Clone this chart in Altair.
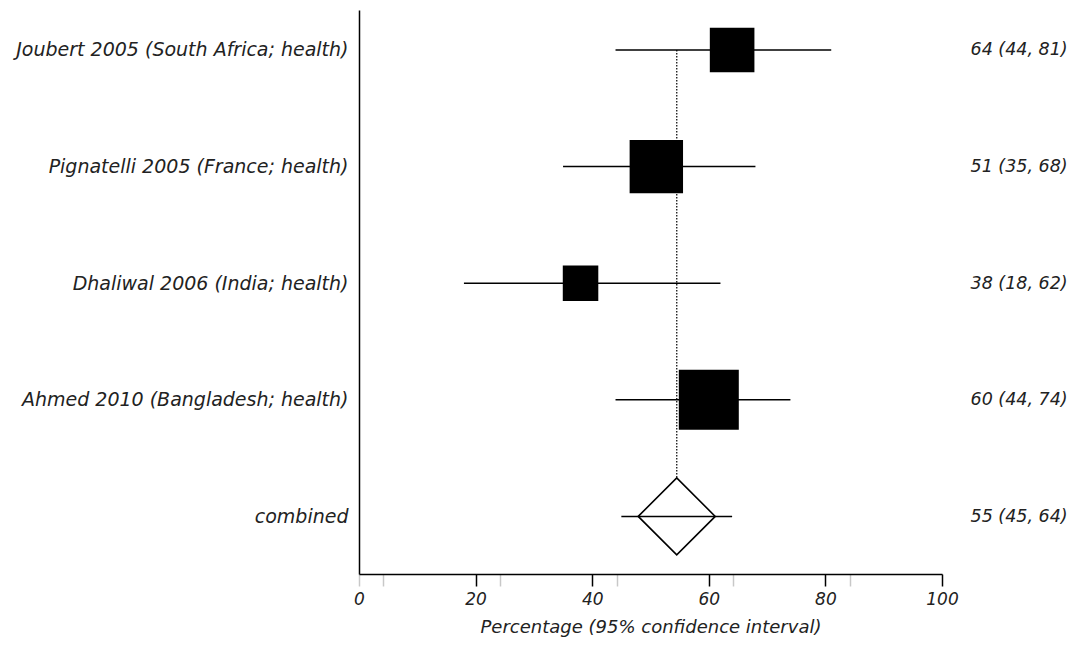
import json
import altair as alt
import pandas as pd

# ---- data ----
studies = [
    "Joubert 2005 (South Africa; health)",
    "Pignatelli 2005 (France; health)",
    "Dhaliwal 2006 (India; health)",
    "Ahmed 2010 (Bangladesh; health)",
]
estimates = [64, 51, 38, 60]
lower = [44, 35, 18, 44]
upper = [81, 68, 62, 74]
weights = [20.5, 29.4, 13.0, 37.1]  # relative study weights (box area)

combined_name = "combined"
combined_est = 54.5
combined_lower = 45
combined_upper = 64

ci_labels = ["64 (44, 81)", "51 (35, 68)", "38 (18, 62)", "60 (44, 74)", "55 (45, 64)"]

major_ticks = [0, 20, 40, 60, 80, 100]
minor_ticks = [4.2, 24.2, 44.2, 64.2, 84.2]

# ---- tables ----
n = len(studies)
studies_df = pd.DataFrame({
    "row": list(range(n)),
    "study": studies,
    "est": estimates,
    "lo": lower,
    "hi": upper,
    "weight": weights,
})
ci_df = pd.DataFrame({
    "row": list(range(n + 1)),
    "lo": lower + [combined_lower],
    "hi": upper + [combined_upper],
})
comb_df = pd.DataFrame({
    "row": [n],
    "top": [0],
    "est": [combined_est],
})

left_labels = studies + [combined_name + "\u00a0\u00a0\u00a0"]
row_values = list(range(n + 1))

FONT = "DejaVu Sans"
TXT = "#222222"

x_scale = alt.Scale(domain=[0, 100], nice=False, zero=False)
y_scale = alt.Scale(domain=[-0.343, 4.494], reverse=True, nice=False, zero=False)

x_axis = alt.Axis(
    values=sorted(major_ticks + minor_ticks),
    labelExpr="datum.value % 20 === 0 ? datum.label : ''",
    tickColor={"condition": {"test": "datum.value % 20 !== 0 || datum.value === 0", "value": "#c8c8c8"}, "value": "black"},
    tickSize=12,
    tickWidth=1.5,
    domainColor="black",
    domainWidth=1.5,
    grid=False,
    labelFont=FONT,
    labelFontSize=17,
    labelFontStyle="italic",
    labelColor=TXT,
    labelPadding=5,
    labelFlush=False,
    labelOverlap=False,
    title="Percentage (95% confidence interval)",
    titleFont=FONT,
    titleFontSize=18,
    titleFontStyle="italic",
    titleFontWeight="normal",
    titleColor=TXT,
    titlePadding=11,
)

left_axis = alt.Axis(
    orient="left",
    values=row_values,
    labelExpr=json.dumps(left_labels, ensure_ascii=False) + "[datum.value]",
    ticks=False,
    domain=True,
    domainColor="black",
    domainWidth=1.5,
    grid=False,
    title=None,
    labelFont=FONT,
    labelFontSize=19,
    labelFontStyle="italic",
    labelColor=TXT,
    labelPadding=11,
    labelLimit=0,
    labelOverlap=False,
)

right_axis = alt.Axis(
    orient="right",
    values=row_values,
    labelExpr=json.dumps(ci_labels) + "[datum.value]",
    ticks=False,
    domain=False,
    grid=False,
    title=None,
    labelFont=FONT,
    labelFontSize=17.5,
    labelFontStyle="italic",
    labelColor=TXT,
    labelPadding=28,
    labelAlign="left",
    labelLimit=0,
    labelOverlap=False,
)

# dotted reference line at the combined estimate
ref = alt.Chart(comb_df).mark_rule(
    color="#222222", strokeWidth=1.4, strokeDash=[1.5, 1.5]
).encode(
    x=alt.X("est:Q", scale=x_scale, axis=x_axis),
    y=alt.Y("top:Q", scale=y_scale, axis=None),
    y2="row:Q",
)

# combined diamond
diamond = alt.Chart(comb_df).mark_point(
    shape="diamond", filled=True, fill="white", stroke="black",
    strokeWidth=1.6, opacity=1, size=5929,
).encode(
    x=alt.X("est:Q", scale=x_scale, axis=x_axis),
    y=alt.Y("row:Q", scale=y_scale, axis=None),
)

# confidence interval lines
ci = alt.Chart(ci_df).mark_rule(color="black", strokeWidth=1.5).encode(
    x=alt.X("lo:Q", scale=x_scale, axis=x_axis),
    x2="hi:Q",
    y=alt.Y("row:Q", scale=y_scale, axis=left_axis),
)

# study boxes (area proportional to weight)
boxes = alt.Chart(studies_df).mark_square(color="black", opacity=1, filled=True).encode(
    x=alt.X("est:Q", scale=x_scale, axis=x_axis),
    y=alt.Y("row:Q", scale=y_scale, axis=right_axis),
    size=alt.Size("weight:Q", scale=alt.Scale(domain=[0, 37.1], range=[0, 3600]), legend=None),
)

chart = (
    alt.layer(ref, diamond, ci, boxes)
    .resolve_axis(y="independent")
    .properties(
        width=583,
        height=564,
        autosize=alt.AutoSizeParams(type="none"),
        padding={"left": 351, "top": 2, "right": 129, "bottom": 65},
    )
    .configure_view(stroke=None)
)

chart.save("out.html", embed_options={"renderer": "svg", "actions": False})
